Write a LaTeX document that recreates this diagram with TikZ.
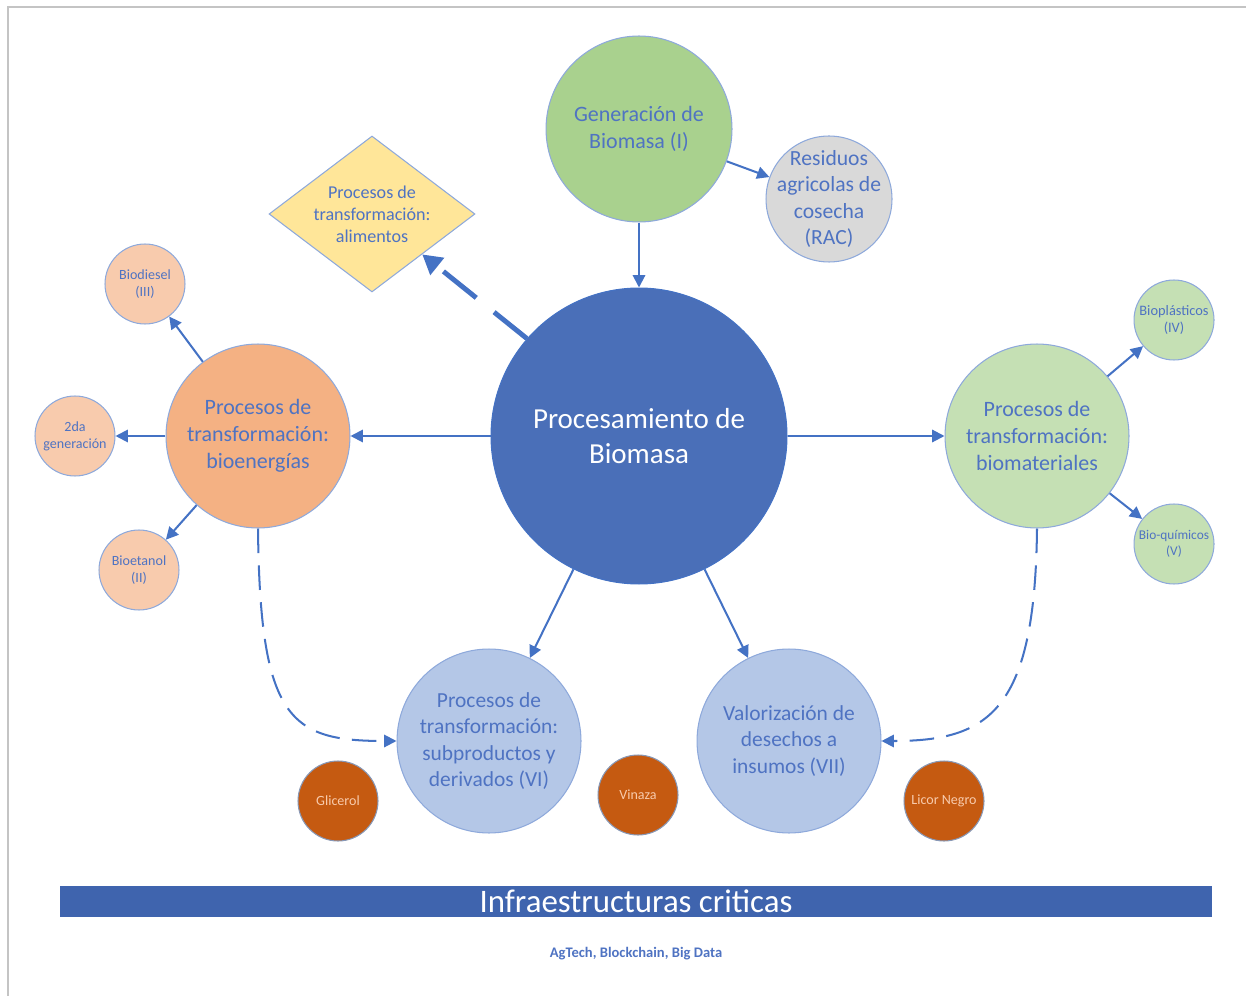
\documentclass[tikz,border=0pt]{standalone}
\usepackage{fontspec}
\setmainfont{Carlito}
\usetikzlibrary{arrows.meta,shapes.geometric}

\definecolor{txtblue}{HTML}{4F73C2}
\definecolor{arrblue}{HTML}{4472C4}
\definecolor{edgeblue}{HTML}{8EA9DB}
\definecolor{coreblue}{HTML}{4A6FB8}
\definecolor{gengreen}{HTML}{A9D18E}
\definecolor{racgray}{HTML}{D9D9D9}
\definecolor{foodyellow}{HTML}{FFE699}
\definecolor{energyorange}{HTML}{F4B183}
\definecolor{peach}{HTML}{F8CBAD}
\definecolor{lightgreen}{HTML}{C5E0B4}
\definecolor{paleblue}{HTML}{B4C7E7}
\definecolor{rust}{HTML}{C55A11}
\definecolor{bannerblue}{HTML}{3F64AE}
\definecolor{framegray}{HTML}{C4C4C4}

\newcommand{\fsz}[1]{\fontsize{#1pt}{1.22\dimexpr#1pt\relax}\selectfont}

\tikzset{
  x=0.02cm, y=-0.02cm,
  bubble/.style={circle, draw=edgeblue, line width=0.6pt, inner sep=0pt,
    align=center, text=txtblue},
  corebubble/.style={bubble, fill=coreblue, draw=arrblue, text=white,
    minimum size=5.92cm, font=\fsz{16.5}},
  midbubble/.style={bubble, minimum size=3.68cm, font=\fsz{12.5}},
  smallbubble/.style={bubble, minimum size=1.6cm, font=\fsz{8}},
  wastebubble/.style={bubble, fill=rust, draw=edgeblue!60!gray,
    text=peach, minimum size=1.6cm, font=\fsz{8}},
  link/.style={draw=arrblue, line width=1.15pt,
    -{Triangle[length=7pt,width=7pt]}},
  dashlink/.style={link, dash pattern=on 14pt off 7pt},
  boldlink/.style={draw=arrblue, line width=2.8pt,
    dash pattern=on 24pt off 13pt, -{Triangle[length=11pt,width=12pt]}}
}

\begin{document}
\begin{tikzpicture}
\useasboundingbox (0,0) rectangle (1246,996);

% frame edges
\draw[framegray, line width=1.1pt] (8,996) -- (8,7) -- (1246,7);

% central hub and upstream nodes
\node[corebubble] (core) at (639,436) {Procesamiento de\\Biomasa};
\node[bubble, fill=gengreen, minimum size=3.72cm, font=\fsz{12.5}] (gen) at (639,129) {Generación de\\Biomasa (I)};
\node[bubble, fill=racgray, minimum size=2.52cm, inner sep=-12pt, font=\fsz{12.3}] (rac) at (829,199) {Residuos\\agricolas de\\cosecha\\(RAC)};
\node[diamond, aspect=1.32, draw=edgeblue, line width=0.6pt, fill=foodyellow, inner sep=0pt,
      minimum width=4.12cm, minimum height=3.12cm, align=center, text=txtblue,
      font=\fsz{10.3}] (food) at (372,214) {Procesos de\\transformación:\\alimentos};

% bioenergy branch
\node[midbubble, fill=energyorange] (energy) at (258,436) {Procesos de\\transformación:\\bioenergías};
\node[smallbubble, fill=peach] (diesel) at (145,284) {Biodiesel\\(III)};
\node[smallbubble, fill=peach] (second) at (75,436) {2da\\generación};
\node[smallbubble, fill=peach] (ethanol) at (139,570) {Bioetanol\\(II)};

% biomaterials branch
\node[midbubble, fill=lightgreen] (mater) at (1037,436) {Procesos de\\transformación:\\biomateriales};
\node[smallbubble, fill=lightgreen, inner sep=-8pt, font=\fsz{8.2}] (plast) at (1174,320) {Bioplásticos\\(IV)};
\node[smallbubble, fill=lightgreen, inner sep=-8pt, font=\fsz{7.6}] (chem) at (1174,544) {Bio-químicos\\(V)};

% by-products and waste valorisation
\node[midbubble, fill=paleblue, font=\fsz{12.2}] (byprod) at (489,741) {Procesos de\\transformación:\\subproductos y\\derivados (VI)};
\node[midbubble, fill=paleblue, font=\fsz{12.2}] (waste) at (789,741) {Valorización de\\desechos a\\insumos (VII)};
\node[wastebubble] (glyc) at (338,801) {Glicerol};
\node[wastebubble] (vina) at (638,795) {Vinaza};
\node[wastebubble] (licor) at (944,801) {Licor Negro};

% infrastructure banner and footer
\node[fill=bannerblue, minimum width=23.04cm, minimum height=0.62cm, inner sep=0pt,
      text=white, font=\fsz{18.7}] (infra) at (636,901.5) {Infraestructuras criticas};
\node[text=txtblue, font=\bfseries\fsz{8.3}] (tech) at (636,954) {AgTech, Blockchain, Big Data};

% connectors
\path[link] (gen) -- (core);
\path[link] (gen) -- (rac);
\path[link] (core) -- (energy);
\path[link] (core) -- (mater);
\path[link] (core) -- (byprod);
\path[link] (core) -- (waste);
\path[boldlink] (core.139) -- (food);
\path[link] (energy) -- (diesel);
\path[link] (energy) -- (second);
\path[link] (energy) -- (ethanol);
\path[link] (mater) -- (plast);
\path[link] (mater) -- (chem);
\path[dashlink] (energy.south) .. controls (260,720) and (290,741) .. (byprod.west);
\path[dashlink] (mater.south) .. controls (1035,710) and (990,741) .. (waste.east);
\end{tikzpicture}
\end{document}
